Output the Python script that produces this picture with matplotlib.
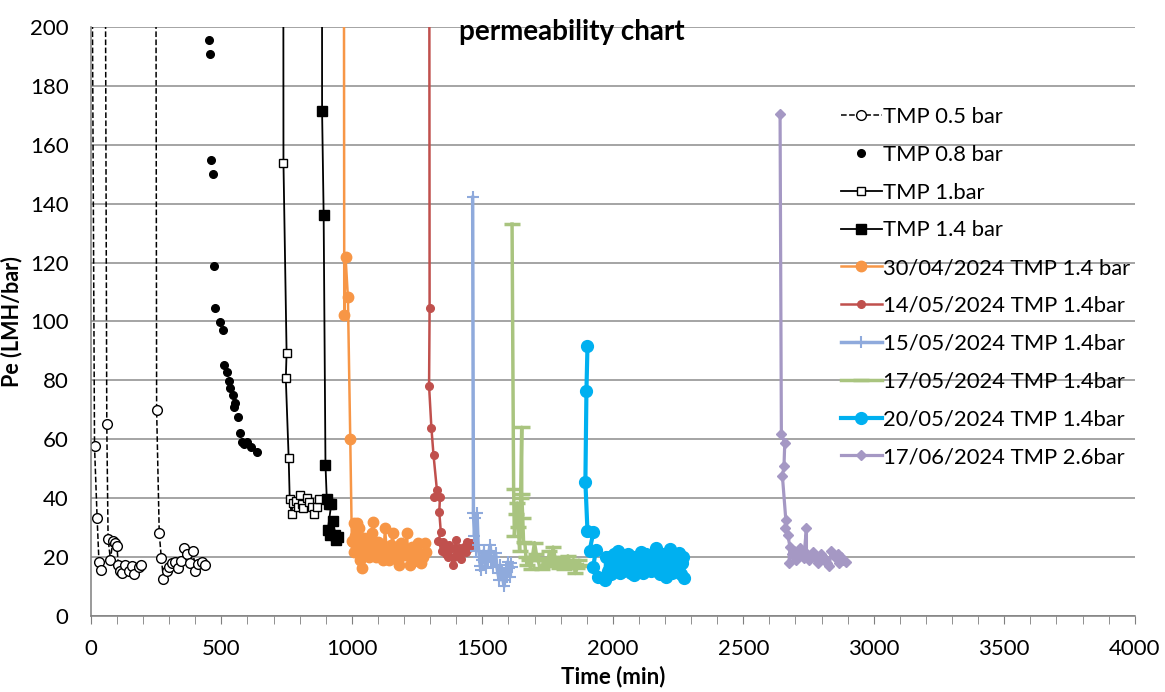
import matplotlib
matplotlib.use("Agg")
import matplotlib.pyplot as plt
from matplotlib.ticker import MultipleLocator
import numpy as np

nan = np.nan

# TMP 0.5 bar (three runs, gaps between them)
t05 = [4, 14, 24, 31, 40, nan,
       55, 61, 66, 75, 84, 92, 100, 105, 113, 121, 132, 146, 156, 166, 184, 194, nan,
       249, 252, 262, 270, 278, 290, 301, 312, 324, 335, 347, 357, 369, 380, 392, 400, 412, 426, 437]
pe05 = [240, 57.5, 33, 18.3, 15.6, nan,
        240, 65, 26, 19, 25.3, 24.5, 23.5, 17.3, 15.2, 14.5, 17.2, 15, 17, 14.2, 16.5, 17.2, nan,
        240, 69.8, 28, 19.5, 12.5, 15, 16.5, 17.8, 18.2, 16, 18.5, 23, 20.8, 18, 21.8, 15.2, 17.5, 18.2, 17.2]

# TMP 0.8 bar
t08 = [451, 458, 460, 467, 471, 477, 496, 505, 512, 521, 529, 535, 544, 549, 554,
       564, 572, 579, 587, 599, 614, 637]
pe08 = [195.8, 190.9, 155, 150.3, 119, 104.5, 99.8, 97, 85.2, 82.9, 79.6, 77.4, 75, 71, 72.3,
        67.4, 62, 59, 58.2, 59, 57.4, 55.5]

# TMP 1.bar
t10 = [734, 738, 750, 747, 758, 762, 769, 773, 786, 792, 801, 809, 814, 827, 837, 847, 856, 865, 873]
pe10 = [700, 154, 89.4, 80.6, 53.5, 39.6, 34.6, 38.2, 39, 37, 41, 38, 36.4, 40, 38.6, 37, 34.6, 37, 39.6]

# TMP 1.4 bar
t14 = [884, 886, 892, 899, 904, 912, 921, 908, 915, 929, 937, 940, 946]
pe14 = [700, 171.5, 136.3, 51.3, 39.6, 38, 37.8, 29.2, 27.3, 32, 27.3, 25.8, 26.6]

# 30/04/2024 TMP 1.4 bar
t_0430 = [964, 971, 976, 985, 994, 1000, 1003, 1007, 1010, 1014, 1018, 1022, 1026, 1029, 1033,
          1038, 1042, 1047, 1053, 1057, 1062, 1067, 1073, 1078, 1082, 1088, 1094, 1101, 1107,
          1114, 1120, 1127, 1133, 1139, 1144, 1150, 1157, 1164, 1170, 1176, 1182, 1189, 1195,
          1202, 1211, 1216, 1221, 1226, 1231, 1237, 1244, 1249, 1253, 1260, 1266, 1272, 1279, 1285]
pe_0430 = [800, 102.2, 121.8, 108.2, 59.9, 25.5, 25.1, 31.3, 21.7, 27, 31.5, 24, 29.7, 22, 19,
           16, 21, 26.2, 23, 21.7, 24, 20, 25.5, 28, 31.9, 22.8, 20, 25.1, 23,
           21.7, 19, 29.7, 23.4, 21, 18.9, 24, 27.9, 20, 22.2, 19, 17.2, 24.5, 22,
           20.5, 27.9, 21, 17.2, 20, 23.4, 18.5, 20, 22, 24.5, 21, 17.7, 20, 24.5, 21.7]

# 14/05/2024 TMP 1.4bar
t_0514 = [1291, 1298, 1296, 1305, 1313, 1326, 1315, 1338, 1335, 1341, 1331, 1345, 1350, 1354,
          1360, 1367, 1372, 1378, 1386, 1392, 1398, 1404, 1410, 1417, 1423, 1430, 1436, 1442,
          1449, 1455]
pe_0514 = [900, 104.6, 78, 63.7, 54.6, 42.7, 40.4, 40.4, 35.3, 28.4, 25.2, 22, 25, 23.3,
           21, 20, 24, 22.5, 17.1, 20, 25.6, 21, 23, 19.3, 22, 23.3, 21.5, 25,
           23, 24.5]

# 15/05/2024 TMP 1.4bar
t_0515 = [1463, 1466, 1470, 1473, 1476, 1480, 1484, 1489, 1492, 1495, 1500, 1505, 1508, 1513,
          1517, 1521, 1526, 1530, 1535, 1540, 1545, 1551, 1555, 1560, 1565, 1569, 1574, 1579,
          1584, 1589, 1594, 1598, 1603, 1607, 1611, 1615]
pe_0515 = [142.2, 34.7, 27, 33, 22, 34.7, 24, 20, 17, 15.5, 19, 22, 21.2, 16,
           19, 18.3, 22, 24, 19, 16.6, 20, 21.2, 17, 14.4, 12, 17.2, 15, 12.1,
           10, 15.5, 13, 18.3, 16, 13.2, 18, 16.6]

# 17/05/2024 TMP 1.4bar
t_0517 = [1614, 1620, 1623, 1628, 1634, 1638, 1643, 1647, 1651, 1651, 1655, 1658, 1663, 1667,
          1671, 1678, 1685, 1692, 1700, 1707, 1714, 1721, 1728, 1735, 1743, 1750, 1757, 1764,
          1771, 1778, 1785, 1792, 1799, 1806, 1813, 1820, 1828, 1835, 1842, 1849, 1856, 1863,
          1870, 1877, 1885]
pe_0517 = [133.1, 43, 27, 34.5, 38.3, 30, 22, 40, 64, 41.3, 33, 25, 24.8, 20,
           17.3, 19, 15.8, 20, 24.8, 21, 18.8, 16, 15.8, 19, 19.5, 17, 21.8, 18,
           23.3, 20, 17.3, 16, 18.8, 20, 15.8, 18, 20.3, 17, 18, 19, 14.3, 16,
           18.8, 17, 17.3]

# 20/05/2024 TMP 1.4bar
t_0520 = [1903, 1899, 1895, 1903, 1926, 1911, 1935, 1925, 1945, 1970, 1975, 1980, 1987, 1993,
          2000, 2006, 2013, 2020, 2026, 2033, 2039, 2045, 2052, 2058, 2064, 2070, 2077, 2083,
          2089, 2096, 2102, 2109, 2115, 2121, 2128, 2134, 2140, 2147, 2153, 2158, 2164, 2170,
          2176, 2182, 2186, 2192, 2198, 2203, 2209, 2215, 2221, 2227, 2232, 2238, 2244, 2250,
          2255, 2260, 2264, 2268, 2273]
pe_0520 = [91.7, 76.2, 45.4, 28.7, 28.5, 22, 22.2, 16.5, 13.2, 12, 19.9, 15, 20, 14,
           17.7, 21, 16, 21.9, 14.5, 19, 15, 20.5, 16, 21, 18.8, 14.5, 20, 13.8,
           19.5, 15.5, 17.7, 21.5, 14.5, 19, 21, 15.5, 20, 15, 19, 16, 22.9, 15,
           20, 14, 17.7, 21, 15, 13.2, 19, 16, 22.6, 14.5, 19, 15, 21, 16,
           21.4, 14, 17.7, 20, 12.9]

# 17/06/2024 TMP 2.6bar
t_0617 = [2641, 2646, 2659, 2656, 2650, 2663, 2660, 2671, 2679, 2675, 2685, 2694, 2702, 2710,
          2716, 2723, 2732, 2742, 2742, 2750, 2759, 2768, 2778, 2787, 2797, 2805, 2812, 2820,
          2829, 2838, 2846, 2855, 2862, 2868, 2876, 2884, 2893]
pe_0617 = [170.5, 61.7, 58.6, 50.8, 47.4, 32.6, 29.6, 27.3, 23.3, 17.9, 21, 22.1, 19, 20.8,
           23, 22.1, 19.5, 29.6, 21.4, 19, 20.4, 21.5, 19.3, 18, 21, 20, 19.3, 18,
           17, 22.1, 20.5, 19.7, 21, 17.9, 20, 19, 18.3]

plt.rcParams['font.family'] = ['Lato', 'DejaVu Sans']

fig = plt.figure(figsize=(11.65, 6.92), dpi=100)
ax = fig.add_axes([0.078, 0.1105, 0.896, 0.85])

ax.plot(t05, pe05, '--', color='black', lw=1.1, marker='o', ms=7, mfc='white', mec='black',
        mew=1.0, label='TMP 0.5 bar')
ax.plot(t08, pe08, 'o', color='black', ms=5.5, label='TMP 0.8 bar', ls='none')
ax.plot(t10, pe10, '-', color='black', lw=1.3, marker='s', ms=5.5, mfc='white', mec='black',
        mew=1.0, label='TMP 1.bar')
ax.plot(t14, pe14, '-', color='black', lw=1.3, marker='s', ms=7, label='TMP 1.4 bar')
ax.plot(t_0430, pe_0430, '-', color='#F79646', lw=1.8, marker='o', ms=7.5,
        label='30/04/2024 TMP 1.4 bar')
ax.plot(t_0514, pe_0514, '-', color='#C0504D', lw=1.8, marker='o', ms=5.5,
        label='14/05/2024 TMP 1.4bar')
ax.plot(t_0515, pe_0515, '-', color='#8FAADC', lw=2.5, marker='+', ms=9, mew=1.5,
        label='15/05/2024 TMP 1.4bar')
ax.plot(t_0517, pe_0517, '-', color='#A9C47F', lw=2.5, marker='_', ms=12, mew=2.5,
        label='17/05/2024 TMP 1.4bar')
ax.plot(t_0520, pe_0520, '-', color='#00B0F0', lw=3, marker='o', ms=8.5,
        label='20/05/2024 TMP 1.4bar')
ax.plot(t_0617, pe_0617, '-', color='#A598C4', lw=2.3, marker='D', ms=5.5,
        label='17/06/2024 TMP 2.6bar')

ax.set_xlim(0, 4000)
ax.set_ylim(0, 200)
ax.xaxis.set_major_locator(MultipleLocator(500))
ax.xaxis.set_minor_locator(MultipleLocator(100))
ax.yaxis.set_major_locator(MultipleLocator(20))
ax.grid(axis='y', color='#8c8c8c', lw=1.1)
ax.set_axisbelow(True)
for s in ['top', 'right']:
    ax.spines[s].set_visible(False)
for s in ['left', 'bottom']:
    ax.spines[s].set_color('#7f7f7f')
    ax.spines[s].set_linewidth(1.1)
ax.tick_params(axis='both', which='both', direction='out', color='#7f7f7f', labelsize=16)
ax.tick_params(axis='x', which='both', length=6, pad=11)
ax.tick_params(axis='y', length=0, pad=16)

ax.set_xlabel('Time (min)', fontsize=16, fontweight='bold', labelpad=5)
ax.set_ylabel('Pe (LMH/bar)', fontsize=15.5, fontweight='bold')
ax.yaxis.set_label_coords(-0.0655, 0.5)
ax.text(0.461, 0.992, 'permeability chart', transform=ax.transAxes, ha='center', va='center',
        fontsize=20, fontweight='bold')

ax.legend(loc='upper left', bbox_to_anchor=(0.7145, 0.858), bbox_transform=fig.transFigure,
          frameon=False, fontsize=15.8, handlelength=1.85, handletextpad=0.05,
          labelspacing=0.81, borderaxespad=0)

fig.savefig('out.png', dpi=100)
